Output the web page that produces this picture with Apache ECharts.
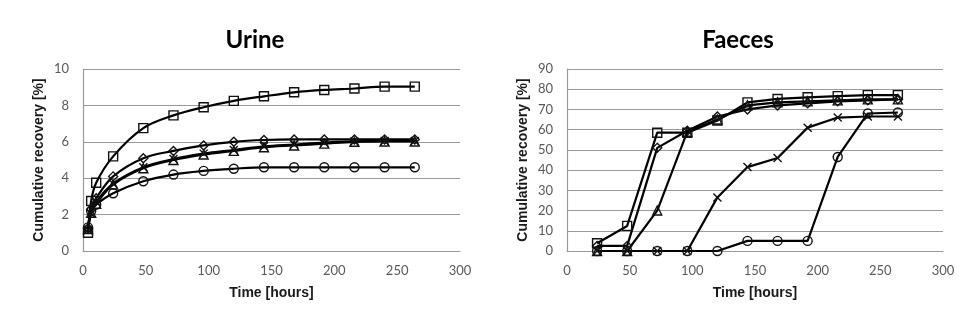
<!DOCTYPE html>
<html>
<head>
<meta charset="utf-8">
<script src="https://cdn.jsdelivr.net/npm/echarts@6/dist/echarts.min.js"></script>
<style>
html,body{margin:0;padding:0;background:#fff;}
#chart{width:976px;height:331px;}
</style>
</head>
<body>
<div id="chart"></div>
<script>
// ---- Data ----
const urineTimes = [4, 6.5, 10.5, 24, 48, 72, 96, 120, 144, 168, 192, 216, 240, 264];
const urineSquare   = [1.0, 2.75, 3.75, 5.2, 6.75, 7.45, 7.9, 8.25, 8.5, 8.72, 8.85, 8.93, 9.03, 9.03];
const urineDiamond  = [1.25, 2.3, 2.9, 4.1, 5.1, 5.5, 5.8, 6.0, 6.1, 6.13, 6.13, 6.13, 6.13, 6.13];
const urineTriangle = [1.2, 2.1, 2.6, 3.65, 4.55, 5.0, 5.3, 5.5, 5.7, 5.8, 5.9, 6.0, 6.02, 6.02];
const urineCross    = [1.15, 2.05, 2.7, 3.7, 4.6, 5.05, 5.35, 5.55, 5.75, 5.85, 5.95, 6.02, 6.05, 6.05];
const urineCircle   = [1.3, 2.2, 2.55, 3.17, 3.83, 4.2, 4.4, 4.52, 4.6, 4.6, 4.6, 4.6, 4.6, 4.6];

const faecesTimes = [24, 48, 72, 96, 120, 144, 168, 192, 216, 240, 264];
const faecesSquare   = [3.8, 12.4, 58.5, 58.5, 64.5, 73.5, 75.2, 76, 76.6, 77.1, 77.1];
const faecesDiamond  = [2.5, 2.5, 51, 59.5, 66.5, 70, 72, 73, 74, 74.5, 75];
const faecesTriangle = [0, 0, 20, 59, 65, 72, 73.5, 74, 74.5, 75, 75];
const faecesCross    = [0, 0, 0, 0, 26.5, 41.5, 46, 61, 66, 66.5, 66.5];
const faecesCircle   = [0, 0, 0, 0, 0, 5, 5, 5, 46.5, 68, 68.5];

const urineYTicks = {min: 0, max: 10, interval: 2};
const faecesYTicks = {min: 0, max: 90, interval: 10};
const xTicks = {min: 0, max: 300, interval: 50};

// ---- Helpers ----
const pair = (xs, ys) => xs.map((x, i) => [x, ys[i]]);
const symbols = {
  square: 'rect',
  diamond: 'diamond',
  triangle: 'triangle',
  cross: 'path://M0,0L10,10M10,0L0,10',
  circle: 'circle'
};
function mkSeries(name, xs, ys, sym, idx, smooth) {
  return {
    name: name,
    type: 'line',
    xAxisIndex: idx, yAxisIndex: idx,
    data: pair(xs, ys),
    smooth: smooth ? 0.35 : false,
    symbol: symbols[sym],
    symbolSize: sym === 'cross' ? 8 : 9,
    lineStyle: {color: '#000', width: 2.2},
    itemStyle: {color: 'rgba(255,255,255,0)', borderColor: '#111', borderWidth: 1.4},
    emphasis: {disabled: true},
    animation: false
  };
}

const labelStyle = {color: '#595959', fontFamily: 'Lato', fontSize: 13};
const nameStyle = {color: '#1a1a1a', fontFamily: 'Liberation Sans', fontSize: 14, fontWeight: 'bold'};
const gridLine = {show: true, lineStyle: {color: '#9a9a9a', width: 1.2}};
const axisLine = {show: true, lineStyle: {color: '#9a9a9a', width: 1.2}};

function xAxis(idx) {
  return {
    type: 'value', gridIndex: idx,
    min: xTicks.min, max: xTicks.max, interval: xTicks.interval,
    name: 'Time [hours]', nameLocation: 'middle', nameGap: 35, nameTextStyle: nameStyle,
    axisLine: axisLine, axisTick: {show: false}, splitLine: {show: false},
    axisLabel: Object.assign({margin: 13}, labelStyle)
  };
}
function yAxis(idx, t) {
  return {
    type: 'value', gridIndex: idx,
    min: t.min, max: t.max, interval: t.interval,
    name: 'Cumulative recovery [%]', nameLocation: 'middle', nameGap: 37, nameTextStyle: nameStyle,
    axisLine: axisLine, axisTick: {show: false}, splitLine: gridLine,
    axisLabel: Object.assign({margin: 14}, labelStyle)
  };
}

const chart = echarts.init(document.getElementById('chart'), null, {renderer: 'canvas'});
chart.setOption({
  backgroundColor: '#fff',
  animation: false,
  title: [
    {text: 'Urine', left: 250, top: 35, textAlign: 'center', textVerticalAlign: 'middle',
     textStyle: {fontFamily: 'Lato', fontSize: 24, fontWeight: 'bold', color: '#000'}},
    {text: 'Faeces', left: 733, top: 35, textAlign: 'center', textVerticalAlign: 'middle',
     textStyle: {fontFamily: 'Lato', fontSize: 24, fontWeight: 'bold', color: '#000'}}
  ],
  grid: [
    {left: 83, top: 69, width: 377, height: 182},
    {left: 567, top: 69, width: 376, height: 182}
  ],
  xAxis: [xAxis(0), xAxis(1)],
  yAxis: [yAxis(0, urineYTicks), yAxis(1, faecesYTicks)],
  series: [
    mkSeries('U square', urineTimes, urineSquare, 'square', 0, true),
    mkSeries('U diamond', urineTimes, urineDiamond, 'diamond', 0, true),
    mkSeries('U triangle', urineTimes, urineTriangle, 'triangle', 0, true),
    mkSeries('U cross', urineTimes, urineCross, 'cross', 0, true),
    mkSeries('U circle', urineTimes, urineCircle, 'circle', 0, true),
    mkSeries('F square', faecesTimes, faecesSquare, 'square', 1, false),
    mkSeries('F diamond', faecesTimes, faecesDiamond, 'diamond', 1, false),
    mkSeries('F triangle', faecesTimes, faecesTriangle, 'triangle', 1, false),
    mkSeries('F cross', faecesTimes, faecesCross, 'cross', 1, false),
    mkSeries('F circle', faecesTimes, faecesCircle, 'circle', 1, false)
  ]
});
</script>
</body>
</html>
